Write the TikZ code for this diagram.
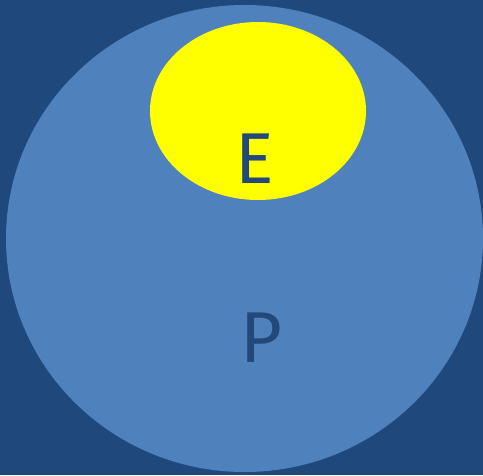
\documentclass[tikz,border=0pt]{standalone}
\usepackage{fontspec}
\setmainfont{Fira Sans}
\usetikzlibrary{shapes.geometric}
\definecolor{bgblue}{HTML}{1F497D}
\definecolor{midblue}{HTML}{4F81BD}
\definecolor{letterblue}{HTML}{22497A}
\definecolor{brightyellow}{HTML}{FFFF00}
\begin{document}
\begin{tikzpicture}[x=1pt,y=-1pt,
  letter/.style={text=letterblue,font=\fontsize{72}{72}\selectfont,inner sep=0pt}]
\fill[bgblue] (0,0) rectangle (483,475);
\useasboundingbox (0,0) rectangle (483,475);
\node[ellipse,fill=midblue,minimum width=477pt,minimum height=467pt,inner sep=0pt] (P0) at (244.5,238.5) {};
\node[ellipse,fill=brightyellow,minimum width=216pt,minimum height=178pt,inner sep=0pt] (E0) at (258,111) {};
\node[letter] (E) at (255,159) {E};
\node[letter] (P) at (261,338) {P};
\end{tikzpicture}
\end{document}
